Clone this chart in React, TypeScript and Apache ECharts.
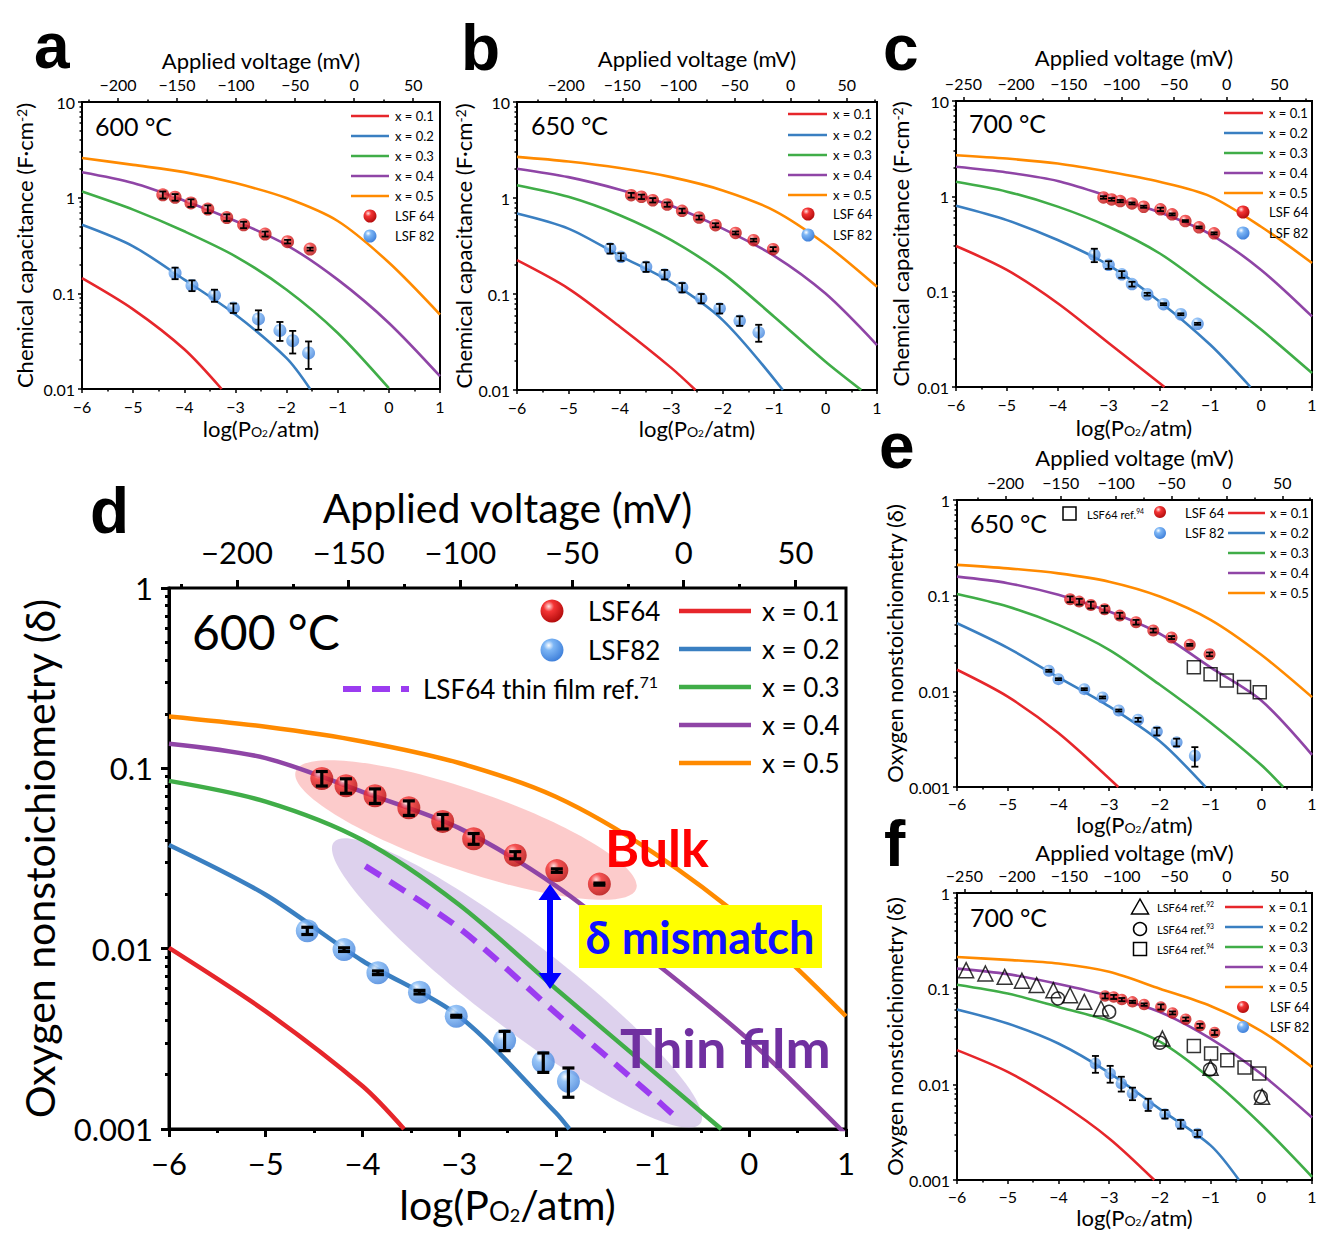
import { useEffect, useRef } from "react";
import * as echarts from "echarts";

type Pt = [number, number];

// ---------------- Panel a : 600 °C, chemical capacitance ----------------
const aX01: Pt[] = [[-6, 0.144], [-5, 0.068], [-4, 0.026], [-3.27, 0.01]];
const aX02: Pt[] = [[-6, 0.52], [-5, 0.31], [-4, 0.139], [-3, 0.06], [-2, 0.021], [-1.54, 0.01]];
const aX03: Pt[] = [[-6, 1.16], [-5, 0.75], [-4, 0.445], [-3, 0.244], [-2, 0.109], [-1, 0.0385], [0, 0.0102]];
const aX04: Pt[] = [[-6, 1.84], [-5, 1.42], [-4, 0.93], [-3, 0.57], [-2, 0.32], [-1, 0.139], [0, 0.049], [1, 0.0136]];
const aX05: Pt[] = [[-6, 2.6], [-5, 2.2], [-4, 1.85], [-3, 1.42], [-2, 0.99], [-1, 0.57], [0, 0.21], [1, 0.06]];
const aLSF64x = [-4.42, -4.18, -3.87, -3.54, -3.17, -2.84, -2.42, -1.98, -1.54];
const aLSF64y = [1.07, 1.01, 0.88, 0.76, 0.62, 0.52, 0.417, 0.347, 0.29];
const aLSF64e = [0.09, 0.08, 0.08, 0.07, 0.05, 0.04, 0.025, 0.015, 0.01];
const aLSF82x = [-4.18, -3.85, -3.41, -3.04, -2.55, -2.13, -1.88, -1.57];
const aLSF82y = [0.163, 0.121, 0.0953, 0.0703, 0.054, 0.041, 0.032, 0.0238];
const aLSF82e = [0.0225, 0.0156, 0.0138, 0.008, 0.0124, 0.0092, 0.0085, 0.0076];

// ---------------- Panel b : 650 °C ----------------
const bX01: Pt[] = [[-6, 0.225], [-5, 0.114], [-4, 0.0456], [-3, 0.017], [-2.53, 0.01]];
const bX02: Pt[] = [[-6, 0.689], [-5, 0.48], [-4, 0.25], [-3, 0.132], [-2, 0.0535], [-0.83, 0.01]];
const bX03: Pt[] = [[-6, 1.36], [-5, 1.03], [-4, 0.662], [-3, 0.364], [-2, 0.164], [-1, 0.058], [0, 0.0197], [0.695, 0.01]];
const bX04: Pt[] = [[-6, 2.02], [-5, 1.65], [-4, 1.22], [-3, 0.83], [-2, 0.48], [-1, 0.25], [0, 0.101], [1, 0.0294]];
const bX05: Pt[] = [[-6, 2.68], [-5, 2.4], [-4, 2.05], [-3, 1.65], [-2, 1.2], [-1, 0.74], [0, 0.33], [1, 0.119]];
const bLSF64x = [-3.78, -3.58, -3.36, -3.08, -2.79, -2.46, -2.14, -1.75, -1.4, -1.02];
const bLSF64y = [1.07, 1.03, 0.948, 0.855, 0.735, 0.626, 0.521, 0.433, 0.364, 0.293];
const bLSF64e = [0.06, 0.055, 0.05, 0.045, 0.04, 0.03, 0.025, 0.015, 0.012, 0.015];
const bLSF82x = [-4.19, -3.98, -3.49, -3.13, -2.79, -2.42, -2.06, -1.67, -1.3];
const bLSF82y = [0.298, 0.244, 0.192, 0.16, 0.117, 0.09, 0.0707, 0.0526, 0.0398];
const bLSF82e = [0.034, 0.022, 0.022, 0.018, 0.013, 0.01, 0.008, 0.006, 0.008];

// ---------------- Panel c : 700 °C ----------------
const cX01: Pt[] = [[-6, 0.301], [-5, 0.169], [-4, 0.0757], [-3, 0.0289], [-1.9, 0.01]];
const cX02: Pt[] = [[-6, 0.796], [-5, 0.563], [-4, 0.348], [-3, 0.19], [-2, 0.079], [-1, 0.0277], [-0.21, 0.01]];
const cX03: Pt[] = [[-6, 1.42], [-5, 1.12], [-4, 0.78], [-3, 0.48], [-2, 0.253], [-1, 0.104], [0, 0.04], [1, 0.014]];
const cX04: Pt[] = [[-6, 2.04], [-5, 1.78], [-4, 1.45], [-3, 1.0], [-2, 0.68], [-1, 0.4], [0, 0.169], [1, 0.055]];
const cX05: Pt[] = [[-6, 2.7], [-5, 2.49], [-4, 2.21], [-3, 1.81], [-2, 1.42], [-1, 1.0], [0, 0.48], [1, 0.2]];
const cLSF64x = [-3.1, -2.94, -2.77, -2.54, -2.31, -1.98, -1.75, -1.49, -1.22, -0.925];
const cLSF64y = [0.974, 0.929, 0.892, 0.843, 0.778, 0.73, 0.647, 0.551, 0.473, 0.409];
const cLSF64e = [0.03, 0.03, 0.025, 0.02, 0.02, 0.03, 0.015, 0.012, 0.01, 0.01];
const cLSF82x = [-3.28, -3.0, -2.74, -2.54, -2.24, -1.92, -1.58, -1.25];
const cLSF82y = [0.243, 0.191, 0.152, 0.12, 0.094, 0.074, 0.058, 0.046];
const cLSF82e = [0.039, 0.0176, 0.0122, 0.0069, 0.0032, 0.0017, 0.0013, 0.0011];

// ---------------- Panel d : 600 °C, oxygen nonstoichiometry ----------------
const dX01: Pt[] = [[-6, 0.0101], [-5, 0.00449], [-4, 0.00173], [-3.57, 0.001]];
const dX02: Pt[] = [[-6, 0.0376], [-5, 0.0199], [-4, 0.00857], [-3, 0.00422], [-2, 0.00123], [-1.86, 0.001]];
const dX03: Pt[] = [[-6, 0.0852], [-5, 0.0654], [-4, 0.04], [-3, 0.0175], [-2, 0.006], [-1, 0.0021], [-0.29, 0.001]];
const dX04: Pt[] = [[-6, 0.137], [-5, 0.114], [-4, 0.074], [-3, 0.0466], [-2, 0.0223], [-1, 0.00857], [0, 0.0031], [1, 0.00093]];
const dX05: Pt[] = [[-6, 0.194], [-5, 0.17], [-4, 0.141], [-3, 0.107], [-2, 0.0695], [-1, 0.0343], [0, 0.0136], [1, 0.00422]];
const dThinFilm: Pt[] = [[-3.97, 0.0287], [-3, 0.013], [-2, 0.0044], [-1, 0.00152], [-0.75, 0.00115]];
const dLSF64x = [-4.42, -4.17, -3.87, -3.52, -3.17, -2.85, -2.42, -1.99, -1.55];
const dLSF64y = [0.0879, 0.0801, 0.0704, 0.0604, 0.0508, 0.0407, 0.033, 0.0271, 0.0228];
const dLSF64e = [0.0081, 0.0074, 0.0065, 0.0056, 0.0047, 0.0028, 0.0015, 0.0006, 0.0003];
const dLSF82x = [-4.57, -4.19, -3.84, -3.41, -3.03, -2.53, -2.13, -1.87];
const dLSF82y = [0.01256, 0.00988, 0.00735, 0.00574, 0.00422, 0.0031, 0.00235, 0.00184];
const dLSF82e = [0.00058, 0.00023, 0.00017, 0.00013, 0.00005, 0.00038, 0.00029, 0.00034];

// ---------------- Panel e : 650 °C ----------------
const eX01: Pt[] = [[-6, 0.0168], [-5, 0.0088], [-4, 0.00366], [-2.82, 0.001]];
const eX02: Pt[] = [[-6, 0.0515], [-5, 0.0285], [-4, 0.014], [-3, 0.00695], [-2, 0.003], [-1.1, 0.001]];
const eX03: Pt[] = [[-6, 0.104], [-5, 0.0769], [-4, 0.0495], [-3, 0.0272], [-2, 0.0117], [-1, 0.0047], [0, 0.0017], [0.43, 0.001]];
const eX04: Pt[] = [[-6, 0.158], [-5, 0.135], [-4, 0.102], [-3, 0.0682], [-2, 0.04], [-1, 0.0178], [0, 0.008], [1, 0.00217]];
const eX05: Pt[] = [[-6, 0.21], [-5, 0.193], [-4, 0.171], [-3, 0.14], [-2, 0.098], [-1, 0.0559], [0, 0.0241], [1, 0.0087]];
const eLSF64x = [-3.77, -3.59, -3.36, -3.09, -2.79, -2.47, -2.13, -1.77, -1.41, -1.02];
const eLSF64y = [0.0918, 0.0867, 0.08, 0.0722, 0.0619, 0.0528, 0.0432, 0.0365, 0.0306, 0.0244];
const eLSF64e = [0.0063, 0.006, 0.0064, 0.0058, 0.0043, 0.003, 0.002, 0.0013, 0.0007, 0.0011];
const eLSF82x = [-4.19, -4.0, -3.49, -3.13, -2.81, -2.43, -2.06, -1.67, -1.31];
const eLSF82y = [0.0164, 0.0134, 0.01054, 0.00863, 0.00631, 0.00504, 0.00381, 0.00293, 0.00212];
const eLSF82e = [0.0004, 0.0003, 0.00024, 0.0002, 0.00015, 0.00023, 0.00035, 0.00027, 0.00049];
const eRef94x = [-1.33, -1.0, -0.68, -0.34, -0.03];
const eRef94y = [0.0179, 0.0151, 0.013, 0.0111, 0.0098];

// ---------------- Panel f : 700 °C ----------------
const fX01: Pt[] = [[-6, 0.0228], [-5, 0.0135], [-4, 0.00657], [-3, 0.00272], [-2.11, 0.001]];
const fX02: Pt[] = [[-6, 0.0605], [-5, 0.0432], [-4, 0.0267], [-3, 0.0132], [-2, 0.0055], [-1, 0.0023], [-0.44, 0.001]];
const fX03: Pt[] = [[-6, 0.11], [-5, 0.0889], [-4, 0.0645], [-3, 0.046], [-2, 0.028], [-1, 0.0115], [0, 0.0038], [1, 0.00108]];
const fX04: Pt[] = [[-6, 0.162], [-5, 0.142], [-4, 0.112], [-3, 0.084], [-2, 0.057], [-1, 0.03], [0, 0.0128], [1, 0.0045]];
const fX05: Pt[] = [[-6, 0.214], [-5, 0.2], [-4, 0.183], [-3, 0.15], [-2, 0.1], [-1, 0.066], [0, 0.036], [1, 0.0152]];
const fLSF64x = [-3.08, -2.91, -2.75, -2.54, -2.31, -1.98, -1.75, -1.49, -1.21, -0.92];
const fLSF64y = [0.084, 0.082, 0.0769, 0.0728, 0.0682, 0.0645, 0.0558, 0.048, 0.0409, 0.0348];
const fLSF64e = [0.005, 0.004, 0.003, 0.002, 0.002, 0.004, 0.002, 0.002, 0.002, 0.002];
const fLSF82x = [-3.27, -2.98, -2.76, -2.54, -2.23, -1.9, -1.59, -1.26];
const fLSF82y = [0.0165, 0.013, 0.0102, 0.00803, 0.00617, 0.00489, 0.00384, 0.00307];
const fLSF82e = [0.0033, 0.0026, 0.0018, 0.0012, 0.0009, 0.0005, 0.0004, 0.00025];
const fRef92x = [-5.82, -5.44, -5.06, -4.72, -4.43, -4.1, -3.77, -3.49, -3.16, -1.95, -1.0, 0.016];
const fRef92y = [0.156, 0.144, 0.133, 0.121, 0.109, 0.0964, 0.0853, 0.0728, 0.062, 0.0301, 0.0149, 0.00741];
const fRef93x = [-4.01, -3.0, -2.0, -1.01, -0.01];
const fRef93y = [0.0788, 0.0572, 0.0272, 0.0143, 0.00741];
const fRef94x = [-1.33, -0.99, -0.67, -0.33, -0.04];
const fRef94y = [0.0251, 0.021, 0.0179, 0.015, 0.013];

// ---------------- axis constants ----------------
const LOGP_TICKS = [-6, -5, -4, -3, -2, -1, 0, 1];
const VOLT_MAJOR = [-250, -200, -150, -100, -50, 0, 50];
const VOLT_MINOR = [-275, -225, -175, -125, -75, -25, 25, 75];
const AIR = 0.678; // -log10(0.21): 0 mV = air
const K600 = 43.3, K650 = 45.8, K700 = 48.3; // mV per decade of pO2 (RT ln10 / 4F)
const X_LABELS = ["x = 0.1", "x = 0.2", "x = 0.3", "x = 0.4", "x = 0.5"];

// ---------------- styles ----------------
const CURVE_COLORS = ["#e6262b", "#3a7fc1", "#40ad48", "#8f45a6", "#ff8a00"];
const THIN_COLOR = "#9b3cf0";
const FONT = 'Lato, "Open Sans", "DejaVu Sans", sans-serif';
const LETTER_FONT = '"Liberation Sans", Arial, sans-serif';

const redBall = () =>
  new echarts.graphic.RadialGradient(0.36, 0.3, 0.72, [
    { offset: 0, color: "#ffe2e2" },
    { offset: 0.32, color: "#f43434" },
    { offset: 1, color: "#b30c0c" },
  ]);
const blueBall = () =>
  new echarts.graphic.RadialGradient(0.36, 0.3, 0.72, [
    { offset: 0, color: "#ffffff" },
    { offset: 0.3, color: "#7db6f5" },
    { offset: 1, color: "#3f80da" },
  ]);

const minus = (s: string) => s.replace(/-/g, "\u2212");

interface Pts3 { x: number[]; y: number[]; e: number[] }
interface RefSet { x: number[]; y: number[]; symbol: string; size: number }
interface Panel {
  box: [number, number, number, number];
  yMin: number; yMax: number; k: number;
  curves: Pt[][];
  s64: Pts3; s82: Pts3;
  refs: RefSet[];
  thin?: Pt[];
  big: boolean;
  yName: string;
  gaps: { b: number; t: number; l: number };
  labB: number;
  ball: number;
}

const SMALL = { tickFont: 16, title: 22, titleLH: 20, lineW: 2.6, axisW: 2, tick: 4, minor: 2.5, tickW: 1.5, errW: 1.8, cap: 3.5, labT: 10, labL: 7, sub: 14, sub2: 10 };
const BIG = { tickFont: 31, title: 41, titleLH: 40, lineW: 4.5, axisW: 3, tick: 8, minor: 4, tickW: 3, errW: 3.2, cap: 6, labT: 21, labL: 16, sub: 26, sub2: 18 };

const CAP_NAME = "{a|Chemical capacitance (F·cm}{s|-2}{a|)}";
const DELTA_NAME = "{a|Oxygen nonstoichiometry (δ)}";
const LOGP_NAME = "{a|log(P}{b|O}{c|2}{a|/atm)}";

const PANELS: Panel[] = [
  { box: [82, 102, 440, 389], yMin: 0.01, yMax: 10, k: K600, curves: [aX01, aX02, aX03, aX04, aX05],
    s64: { x: aLSF64x, y: aLSF64y, e: aLSF64e }, s82: { x: aLSF82x, y: aLSF82y, e: aLSF82e }, refs: [],
    big: false, yName: CAP_NAME, gaps: { b: 29, t: 31, l: 48 }, labB: 9, ball: 13 },
  { box: [517, 102, 877, 390], yMin: 0.01, yMax: 10, k: K650, curves: [bX01, bX02, bX03, bX04, bX05],
    s64: { x: bLSF64x, y: bLSF64y, e: bLSF64e }, s82: { x: bLSF82x, y: bLSF82y, e: bLSF82e }, refs: [],
    big: false, yName: CAP_NAME, gaps: { b: 28, t: 33, l: 43 }, labB: 9, ball: 12.5 },
  { box: [956, 101, 1312, 387], yMin: 0.01, yMax: 10, k: K700, curves: [cX01, cX02, cX03, cX04, cX05],
    s64: { x: cLSF64x, y: cLSF64y, e: cLSF64e }, s82: { x: cLSF82x, y: cLSF82y, e: cLSF82e }, refs: [],
    big: false, yName: CAP_NAME, gaps: { b: 30, t: 33, l: 46 }, labB: 9, ball: 12.5 },
  { box: [169, 588, 846, 1129], yMin: 0.001, yMax: 1, k: K600, curves: [dX01, dX02, dX03, dX04, dX05],
    s64: { x: dLSF64x, y: dLSF64y, e: dLSF64e }, s82: { x: dLSF82x, y: dLSF82y, e: dLSF82e }, refs: [],
    thin: dThinFilm, big: true, yName: DELTA_NAME, gaps: { b: 55, t: 60, l: 110 }, labB: 18, ball: 23 },
  { box: [957, 500, 1312, 787], yMin: 0.001, yMax: 1, k: K650, curves: [eX01, eX02, eX03, eX04, eX05],
    s64: { x: eLSF64x, y: eLSF64y, e: eLSF64e }, s82: { x: eLSF82x, y: eLSF82y, e: eLSF82e },
    refs: [{ x: eRef94x, y: eRef94y, symbol: "rect", size: 13 }],
    big: false, yName: DELTA_NAME, gaps: { b: 27, t: 32, l: 51 }, labB: 8, ball: 12 },
  { box: [957, 893, 1312, 1180], yMin: 0.001, yMax: 1, k: K700, curves: [fX01, fX02, fX03, fX04, fX05],
    s64: { x: fLSF64x, y: fLSF64y, e: fLSF64e }, s82: { x: fLSF82x, y: fLSF82y, e: fLSF82e },
    refs: [
      { x: fRef92x, y: fRef92y, symbol: "triangle", size: 15 },
      { x: fRef93x, y: fRef93y, symbol: "circle", size: 13 },
      { x: fRef94x, y: fRef94y, symbol: "rect", size: 13 },
    ],
    big: false, yName: DELTA_NAME, gaps: { b: 27, t: 30, l: 53 }, labB: 8, ball: 11.5 },
];

function logMinor(lo: number, hi: number) {
  const out: number[] = [];
  for (let k = Math.round(Math.log10(lo)); k < Math.round(Math.log10(hi)); k++) {
    for (let m = 2; m <= 9; m++) out.push(Math.log10(m) + k);
  }
  return out;
}

function buildOption() {
  const grid: any[] = [];
  const xAxis: any[] = [];
  const yAxis: any[] = [];
  const series: any[] = [];

  PANELS.forEach((p, gi) => {
    const S = p.big ? BIG : SMALL;
    const [l, t, r, b] = p.box;
    grid.push({
      left: l, top: t, width: r - l, height: b - t, show: true, borderColor: "#000",
      borderWidth: S.axisW, backgroundColor: "rgba(0,0,0,0)", containLabel: false, outerBoundsMode: "none",
    });
    const axisLine = { show: true, onZero: false, lineStyle: { color: "#000", width: S.axisW } };
    const tickStyle = { color: "#000", width: S.tickW };
    const labelBase = { color: "#000", fontSize: S.tickFont, fontFamily: FONT };
    const titleStyle = {
      fontSize: S.title, fontFamily: FONT, color: "#000",
      rich: {
        a: { fontSize: S.title, fontFamily: FONT, color: "#000", lineHeight: S.titleLH },
        b: { fontSize: S.sub, fontFamily: FONT, color: "#000", lineHeight: S.sub, verticalAlign: "bottom" },
        c: { fontSize: S.sub2, fontFamily: FONT, color: "#000", lineHeight: Math.round(S.sub2 * 0.3), verticalAlign: "bottom" },
        s: { fontSize: S.sub, fontFamily: FONT, color: "#000", lineHeight: S.sub, verticalAlign: "top" },
      },
    };

    const xi = xAxis.length;
    xAxis.push({
      type: "value", gridIndex: gi, position: "bottom", min: LOGP_TICKS[0], max: LOGP_TICKS[LOGP_TICKS.length - 1], interval: 1,
      axisLine, axisTick: { show: true, inside: false, length: S.tick, lineStyle: tickStyle },
      minorTick: { show: true, splitNumber: 2, length: S.minor, lineStyle: tickStyle },
      splitLine: { show: false }, minorSplitLine: { show: false },
      axisLabel: { ...labelBase, margin: p.labB, formatter: (v: number) => minus(String(v)) },
      name: LOGP_NAME, nameLocation: "middle", nameGap: p.gaps.b, nameTextStyle: titleStyle,
    });
    const vMin = p.k * (LOGP_TICKS[0] + AIR);
    const vMax = p.k * (LOGP_TICKS[LOGP_TICKS.length - 1] + AIR);
    const major = VOLT_MAJOR.filter((v) => v >= vMin && v <= vMax);
    const minorV = VOLT_MINOR.filter((v) => v >= vMin && v <= vMax);
    xAxis.push({
      type: "value", gridIndex: gi, position: "top", min: vMin, max: vMax,
      axisLine: { show: false, onZero: false },
      axisTick: { show: true, inside: false, length: S.tick, lineStyle: tickStyle, customValues: major },
      axisLabel: { ...labelBase, margin: S.labT, customValues: major, formatter: (v: number) => minus(String(Math.round(v))) },
      splitLine: { show: false },
      name: "Applied voltage (mV)", nameLocation: "middle", nameGap: p.gaps.t,
      nameTextStyle: { fontSize: S.title, fontFamily: FONT, color: "#000" },
    });
    xAxis.push({
      type: "value", gridIndex: gi, position: "top", min: vMin, max: vMax,
      axisLine: { show: false, onZero: false },
      axisTick: { show: true, inside: false, length: S.minor, lineStyle: tickStyle, customValues: minorV },
      axisLabel: { show: false }, splitLine: { show: false },
    });

    const yi = yAxis.length;
    yAxis.push({
      type: "log", logBase: 10, gridIndex: gi, position: "left", min: p.yMin, max: p.yMax,
      axisLine, axisTick: { show: true, inside: false, length: S.tick, lineStyle: tickStyle },
      splitLine: { show: false },
      axisLabel: { ...labelBase, margin: S.labL, formatter: (v: number) => String(parseFloat(Number(v).toPrecision(4))) },
      name: p.yName, nameLocation: "middle", nameGap: p.gaps.l, nameRotate: 90, nameTextStyle: titleStyle,
    });
    yAxis.push({
      type: "value", gridIndex: gi, position: "left", min: Math.log10(p.yMin), max: Math.log10(p.yMax),
      axisLine: { show: false, onZero: false },
      axisTick: { show: true, inside: false, length: S.minor, lineStyle: tickStyle, customValues: logMinor(p.yMin, p.yMax) },
      axisLabel: { show: false }, splitLine: { show: false },
    });

    p.curves.forEach((c, j) => {
      series.push({
        type: "line", name: X_LABELS[j], xAxisIndex: xi, yAxisIndex: yi, data: c,
        smooth: 0.3, showSymbol: false, symbol: "none", silent: true, z: 2,
        lineStyle: { color: CURVE_COLORS[j], width: S.lineW }, itemStyle: { color: CURVE_COLORS[j] },
      });
    });
    if (p.thin) {
      series.push({
        type: "line", name: "LSF64 thin film ref.71", xAxisIndex: xi, yAxisIndex: yi, data: p.thin,
        smooth: 0.3, showSymbol: false, symbol: "none", silent: true, z: 2,
        lineStyle: { color: THIN_COLOR, width: 6, type: [18, 11] },
      });
    }
    p.refs.forEach((rs) => {
      series.push({
        type: "scatter", name: "ref", xAxisIndex: xi, yAxisIndex: yi, symbol: rs.symbol, symbolSize: rs.size,
        data: rs.x.map((x, k) => [x, rs.y[k]]), silent: true, z: 3,
        itemStyle: { color: "rgba(0,0,0,0)", borderColor: "#000", borderWidth: 1.5 },
      });
    });
    const addBalls = (s: Pts3, color: any, name: string) => {
      series.push({
        type: "scatter", name, xAxisIndex: xi, yAxisIndex: yi, symbol: "circle", symbolSize: p.ball,
        data: s.x.map((x, k) => [x, s.y[k]]), silent: true, z: 4, itemStyle: { color },
      });
      series.push({
        type: "custom", name: name + " err", xAxisIndex: xi, yAxisIndex: yi, silent: true, z: 5,
        data: s.x.map((x, k) => [x, s.y[k] - s.e[k], s.y[k] + s.e[k]]),
        encode: { x: 0, y: [1, 2] },
        renderItem: (_params: any, api: any) => {
          const x = api.value(0), lo = api.value(1), hi = api.value(2);
          const A = api.coord([x, lo]);
          const B = api.coord([x, hi]);
          const w = S.cap;
          const st = { stroke: "#000", lineWidth: S.errW };
          return {
            type: "group",
            children: [
              { type: "line", shape: { x1: A[0], y1: A[1], x2: B[0], y2: B[1] }, style: st },
              { type: "line", shape: { x1: A[0] - w, y1: A[1], x2: A[0] + w, y2: A[1] }, style: st },
              { type: "line", shape: { x1: B[0] - w, y1: B[1], x2: B[0] + w, y2: B[1] }, style: st },
            ],
          };
        },
      });
    };
    addBalls(p.s64, redBall(), "LSF 64");
    addBalls(p.s82, blueBall(), "LSF 82");
  });

  return { animation: false, backgroundColor: "#fff", textStyle: { fontFamily: FONT }, grid, xAxis, yAxis, series, graphic: { elements: buildGraphics() } };
}

// ---------------- decorations: legends, labels, annotations ----------------
function txt(x: number, y: number, text: string, size: number, extra: any = {}) {
  return {
    type: "text", x, y, z: 20, silent: true,
    style: {
      text, fill: "#000", fontSize: size, fontFamily: FONT, align: "left", verticalAlign: "middle",
      textAlign: "left", textVerticalAlign: "middle", ...extra,
    },
  };
}
function hline(x1: number, x2: number, y: number, color: string, w: number, dash?: number[]) {
  return { type: "line", z: 20, silent: true, shape: { x1, y1: y, x2, y2: y }, style: { stroke: color, lineWidth: w, lineDash: dash } };
}
function ball(cx: number, cy: number, r: number, fill: any) {
  return { type: "circle", z: 20, silent: true, shape: { cx, cy, r }, style: { fill } };
}
function supText(x: number, y: number, base: string, sup: string, size: number) {
  return txt(x, y, `{a|${base}}{s|${sup}}`, size, {
    rich: {
      a: { fontSize: size, fontFamily: FONT, fill: "#000", color: "#000", lineHeight: size * 1.2 },
      s: { fontSize: size * 0.62, fontFamily: FONT, fill: "#000", color: "#000", lineHeight: size * 0.62, verticalAlign: "top" },
    },
  });
}
function lineLegend(x1: number, x2: number, tx: number, ys: number[], w: number, size: number) {
  const out: any[] = [];
  ys.forEach((y, j) => {
    out.push(hline(x1, x2, y, CURVE_COLORS[j], w));
    out.push(txt(tx, y, X_LABELS[j], size));
  });
  return out;
}
function letter(x: number, y: number, ch: string) {
  return txt(x, y, ch, 64, { fontWeight: "bold", fontFamily: LETTER_FONT });
}

function buildGraphics() {
  const g: any[] = [];
  // panel letters
  g.push(letter(34, 46, "a"), letter(461, 48, "b"), letter(883, 48, "c"), letter(90, 511, "d"), letter(879, 446, "e"), letter(884, 844, "f"));
  // temperatures
  g.push(txt(95, 126, "600 °C", 25), txt(531, 125, "650 °C", 25), txt(969, 123, "700 °C", 25));
  g.push(txt(192, 631, "600 °C", 48), txt(970, 523, "650 °C", 25), txt(970, 917, "700 °C", 25));

  // panel a legend
  g.push(...lineLegend(351, 389, 395, [116, 136, 156, 176, 196], 2.6, 13));
  g.push(ball(370, 216, 6.5, redBall()), txt(395, 216, "LSF 64", 13), ball(370, 236, 6.5, blueBall()), txt(395, 236, "LSF 82", 13));
  // panel b legend
  g.push(...lineLegend(788, 827, 833, [114, 135, 155, 175, 195], 2.6, 13));
  g.push(ball(808, 214, 6.5, redBall()), txt(833, 214, "LSF 64", 13), ball(808, 235, 6.5, blueBall()), txt(833, 235, "LSF 82", 13));
  // panel c legend
  g.push(...lineLegend(1224, 1263, 1269, [113, 133, 153, 173, 193], 2.6, 13));
  g.push(ball(1243, 212, 6.5, redBall()), txt(1269, 212, "LSF 64", 13), ball(1243, 233, 6.5, blueBall()), txt(1269, 233, "LSF 82", 13));

  // panel d legend
  g.push(ball(552, 611, 11.5, redBall()), txt(588, 611, "LSF64", 26), ball(552, 650, 11.5, blueBall()), txt(588, 650, "LSF82", 26));
  g.push(hline(343, 409, 689, THIN_COLOR, 6, [18, 11]), supText(423, 689, "LSF64 thin film ref.", "71", 26));
  g.push(...lineLegend(679, 751, 762, [611, 649, 687, 725, 763], 4.5, 26));

  // panel e legend
  g.push({ type: "rect", z: 20, silent: true, shape: { x: 1063, y: 507, width: 13, height: 13 }, style: { fill: "none", stroke: "#000", lineWidth: 1.5 } });
  g.push(supText(1087, 514, "LSF64 ref.", "94", 11));
  g.push(ball(1160, 512, 6, redBall()), txt(1185, 513, "LSF 64", 13), ball(1160, 533, 6, blueBall()), txt(1185, 533, "LSF 82", 13));
  g.push(...lineLegend(1228, 1265, 1270, [513, 533, 553, 573, 593], 2.6, 13));

  // panel f legend
  g.push({ type: "polygon", z: 20, silent: true, shape: { points: [[1140, 899], [1131.5, 914], [1148.5, 914]] }, style: { fill: "none", stroke: "#000", lineWidth: 1.5 } });
  g.push({ type: "circle", z: 20, silent: true, shape: { cx: 1140, cy: 929, r: 6.5 }, style: { fill: "none", stroke: "#000", lineWidth: 1.5 } });
  g.push({ type: "rect", z: 20, silent: true, shape: { x: 1133.5, y: 942.5, width: 13, height: 13 }, style: { fill: "none", stroke: "#000", lineWidth: 1.5 } });
  g.push(supText(1157, 907, "LSF64 ref.", "92", 11), supText(1157, 929, "LSF64 ref.", "93", 11), supText(1157, 949, "LSF64 ref.", "94", 11));
  g.push(...lineLegend(1225, 1263, 1269, [907, 927, 947, 967, 987], 2.6, 13));
  g.push(ball(1243, 1007, 6, redBall()), txt(1270, 1007, "LSF 64", 13), ball(1243, 1027, 6, blueBall()), txt(1270, 1027, "LSF 82", 13));

  // panel d annotations
  g.push({ type: "ellipse", z: 1, silent: true, x: 466, y: 830, rotation: (-19 * Math.PI) / 180, shape: { cx: 0, cy: 0, rx: 180, ry: 40 }, style: { fill: "rgba(248,140,140,0.45)" } });
  g.push({ type: "ellipse", z: 1, silent: true, x: 517, y: 983, rotation: (-37.5 * Math.PI) / 180, shape: { cx: 0, cy: 0, rx: 231, ry: 43 }, style: { fill: "rgba(170,140,210,0.4)" } });
  g.push(txt(605, 847, "Bulk", 52, { fill: "#ff0000", fontWeight: "bold" }));
  g.push({ type: "rect", z: 19, silent: true, shape: { x: 579, y: 905, width: 243, height: 63 }, style: { fill: "#ffff00" } });
  g.push(txt(700, 937, "δ mismatch", 45, { fill: "#1212ff", fontWeight: "bold", align: "center", textAlign: "center" }));
  g.push(txt(620, 1047, "Thin film", 54, { fill: "#7030a0", fontWeight: "bold" }));
  // double arrow
  g.push({ type: "line", z: 20, silent: true, shape: { x1: 550, y1: 898, x2: 550, y2: 975 }, style: { stroke: "#0000ff", lineWidth: 6 } });
  g.push({ type: "polygon", z: 20, silent: true, shape: { points: [[550, 884], [538.5, 900], [561.5, 900]] }, style: { fill: "#0000ff" } });
  g.push({ type: "polygon", z: 20, silent: true, shape: { points: [[550, 989], [538.5, 973], [561.5, 973]] }, style: { fill: "#0000ff" } });
  return g;
}

export default function App() {
  const ref = useRef<HTMLDivElement>(null);
  useEffect(() => {
    if (!ref.current) return;
    const chart = echarts.init(ref.current, null, { renderer: "svg", width: 1317, height: 1236 });
    chart.setOption(buildOption() as any);
    return () => chart.dispose();
  }, []);
  return <div ref={ref} style={{ position: "absolute", left: 0, top: 0, width: 1317, height: 1236, background: "#fff" }} />;
}
